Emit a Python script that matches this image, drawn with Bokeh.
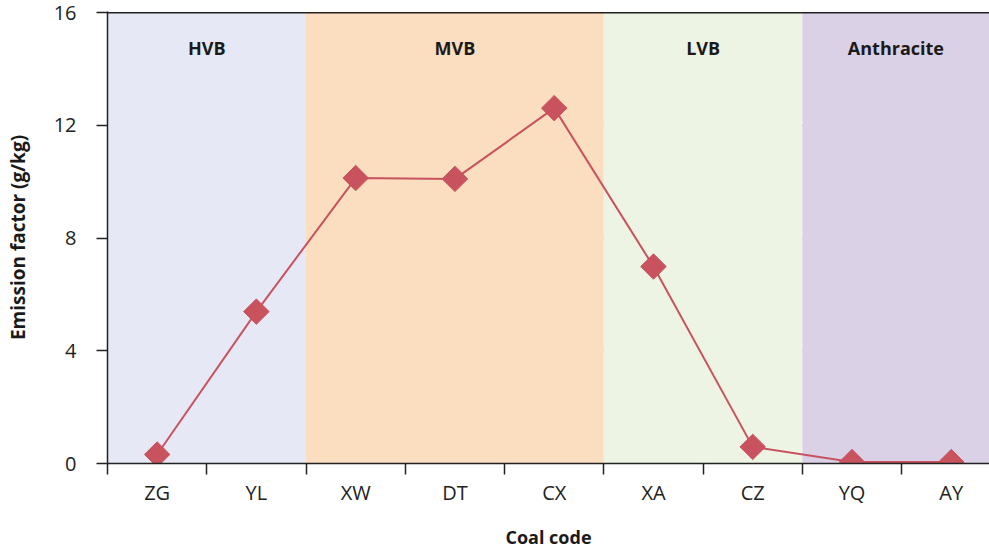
import numpy as np
from bokeh.plotting import figure
from bokeh.models import FixedTicker, Span, Range1d, ColumnDataSource, Label
from bokeh.embed import file_html
from bokeh.resources import INLINE

# ---- data ----
coal_codes = ["ZG", "YL", "XW", "DT", "CX", "XA", "CZ", "YQ", "AY"]
emission = [0.32, 5.39, 10.13, 10.1, 12.61, 6.99, 0.59, 0.05, 0.05]
band_names = ["HVB", "MVB", "LVB", "Anthracite"]
band_first = ["ZG", "XW", "XA", "YQ"]
band_last = ["YL", "CX", "CZ", "AY"]
band_colors = ["#E6E9F5", "#FADEBF", "#EEF4E3", "#DAD1E6"]
y_ticks = [0, 4, 8, 12, 16]

FONT = "Open Sans"
X_END = 8.885

idx = {c: i for i, c in enumerate(coal_codes)}
xs = [idx[c] + 0.5 for c in coal_codes]

p = figure(width=989, height=551, output_backend="svg", toolbar_location=None,
           x_range=Range1d(0, X_END), y_range=Range1d(0, 16.04),
           min_border_left=107, min_border_top=11, min_border_right=0, min_border_bottom=0)
p.outline_line_color = None
p.background_fill_color = "white"

# bands
b_left = [idx[c] for c in band_first]
b_right = [idx[c] + 1 for c in band_last]
p.quad(left=b_left, right=b_right, bottom=0, top=16.04, fill_color=band_colors, line_color=None)

for name, l, r in zip(band_names, b_left, b_right):
    cx = (l + min(r, X_END)) / 2
    p.add_layout(Label(x=cx, y=14.75, text=name, text_align="center", text_baseline="middle",
                       text_font=FONT, text_font_style="bold", text_font_size="18px",
                       text_color="#1a1a1a"))

# grid
p.xgrid.grid_line_color = None
p.ygrid.ticker = FixedTicker(ticks=[4, 8, 12])
p.ygrid.grid_line_color = "#9A9A9A"
p.ygrid.grid_line_width = 1.3
p.add_layout(Span(location=16, dimension="width", line_color="#222222", line_width=1.5))

# series
src = ColumnDataSource(dict(x=xs, y=emission))
p.line("x", "y", source=src, line_color="#C9525F", line_width=2)
p.scatter("x", "y", source=src, marker="square", size=18, angle=np.pi / 4,
          fill_color="#C9525F", line_color="#C9525F")

# x axis
p.xaxis.ticker = FixedTicker(ticks=xs, minor_ticks=list(range(0, len(coal_codes) + 1)))
p.xaxis.major_label_overrides = {x: c for x, c in zip(xs, coal_codes)}
p.xaxis.major_tick_out = 0
p.xaxis.major_tick_in = 0
p.xaxis.minor_tick_out = 11
p.xaxis.minor_tick_in = 0
p.xaxis.minor_tick_line_color = "#222222"
p.xaxis.minor_tick_line_width = 1.5
p.xaxis.axis_line_color = "#222222"
p.xaxis.axis_line_width = 1.5
p.xaxis.major_label_standoff = 4
p.xaxis.major_label_text_font = FONT
p.xaxis.major_label_text_font_size = "20px"
p.xaxis.major_label_text_color = "#222222"
p.xaxis.axis_label = "Coal code"
p.xaxis.axis_label_text_font = FONT
p.xaxis.axis_label_text_font_style = "bold"
p.xaxis.axis_label_text_font_size = "18px"
p.xaxis.axis_label_standoff = 16
p.xaxis.axis_label_text_color = "#1a1a1a"

# y axis
p.yaxis.ticker = FixedTicker(ticks=y_ticks)
p.yaxis.minor_tick_line_color = None
p.yaxis.major_tick_out = 11
p.yaxis.major_tick_in = 0
p.yaxis.major_tick_line_color = "#222222"
p.yaxis.major_tick_line_width = 1.5
p.yaxis.axis_line_color = "#222222"
p.yaxis.axis_line_width = 1.5
p.yaxis.major_label_standoff = 20
p.yaxis.major_label_text_font = FONT
p.yaxis.major_label_text_font_size = "20px"
p.yaxis.major_label_text_color = "#222222"
p.yaxis.axis_label = "Emission factor (g/kg)"
p.yaxis.axis_label_text_font = FONT
p.yaxis.axis_label_text_font_style = "bold"
p.yaxis.axis_label_text_font_size = "19px"
p.yaxis.axis_label_standoff = 20
p.yaxis.axis_label_text_color = "#1a1a1a"

open("out.html", "w").write(file_html(p, INLINE))
